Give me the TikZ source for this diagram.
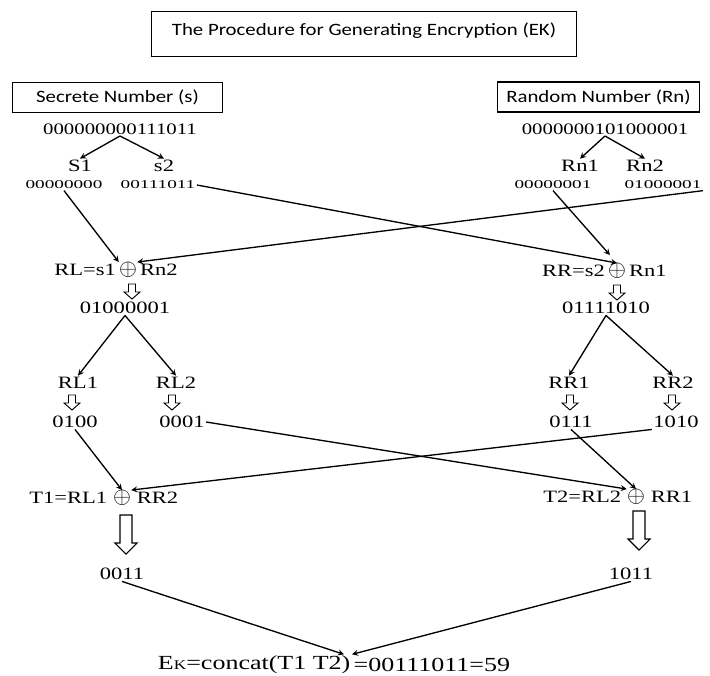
\documentclass[tikz,border=0pt]{standalone}
\usepackage{fontspec}
\setmainfont{Liberation Serif}
\newfontfamily\hdrfont[FakeStretch=1.2]{Carlito}
\newfontfamily\widefont[FakeStretch=1.3]{Liberation Serif}
\newfontfamily\bitsfont[FakeStretch=1.6]{Liberation Serif}
\usepackage{tikz}
\usetikzlibrary{positioning,arrows}
\tikzstyle{hdr} = [draw, line width=0.8pt, font=\hdrfont\fontsize{13}{15}\selectfont, inner sep=0pt]
\tikzstyle{lbl} = [font=\widefont\fontsize{13}{15}\selectfont, inner sep=1pt]
\tikzstyle{num} = [font=\widefont\fontsize{12}{14}\selectfont, inner sep=1pt]
\tikzstyle{bits} = [font=\bitsfont\fontsize{9}{10}\selectfont, inner sep=1pt]
\tikzstyle{xor} = [font=\fontsize{17}{19}\selectfont, inner sep=0pt]
\tikzstyle{arrow} = [line width=1pt,->,>=stealth]
\tikzset{
  smalldown/.pic={\draw[line width=0.7pt] (-3.5,-7) -- (3.5,-7) -- (3.5,1) -- (8,1) -- (0,8) -- (-8,1) -- (-3.5,1) -- cycle;},
  bigdown/.pic={\draw[line width=0.8pt] (-6,-19) -- (6,-19) -- (6,9) -- (11,9) -- (0,20) -- (-11,9) -- (-6,9) -- cycle;}
}
\begin{document}
\begin{tikzpicture}[x=0.75pt, y=-0.75pt]
    \useasboundingbox (0,0) rectangle (710,675);
    % headings
    \node[hdr, minimum width=319pt, minimum height=34pt, text depth=8pt] (title) at (364,34) {The Procedure for Generating Encryption (EK)};
    \node[hdr, minimum width=157pt, minimum height=22pt] (secbox) at (117.5,97.5) {Secrete Number (s)};
    \node[hdr, minimum width=152pt, minimum height=22.5pt] (rndbox) at (598.5,97) {Random Number (Rn)};
    % splitting s and Rn
    \node[num] (snum) at (120,129) {000000000111011};
    \node[num] (rnum) at (605,129) {0000000101000001};
    \node[lbl] (S1) at (80,166) {S1};
    \node[lbl] (s2) at (164,166) {s2};
    \node[lbl] (Rn1) at (580,166) {Rn1};
    \node[lbl] (Rn2) at (645,166) {Rn2};
    \node[bits] (bS1) at (64,185) {00000000};
    \node[bits] (bS2) at (158,185) {00111011};
    \node[bits] (bRn1) at (553,185) {00000001};
    \node[bits] (bRn2) at (663,185) {01000001};
    \draw[arrow] (snum.south) -- (S1.north);
    \draw[arrow] (snum.south) -- (s2.north);
    \draw[arrow] (rnum.south) -- (Rn1.north);
    \draw[arrow] (rnum.south) -- (Rn2.north);
    % RL and RR
    \node[xor] (xorL) at (128,270) {$\oplus$};
    \node[lbl, left=1pt of xorL] (RLl) {RL=s1};
    \node[lbl, right=1pt of xorL] (RLr) {Rn2};
    \node[xor] (xorR) at (617,271) {$\oplus$};
    \node[lbl, left=1pt of xorR] (RRl) {RR=s2};
    \node[lbl, right=1pt of xorR] (RRr) {Rn1};
    \draw[arrow] (bS1.south) -- (xorL.north west);
    \draw[arrow] (bRn2.south east) -- (xorL.north east);
    \draw[arrow] (bS2.east) -- (xorR.north);
    \draw[arrow, shorten >=8pt] (bRn1.south) -- (xorR.north);
    \pic at (132,291) {smalldown};
    \pic at (617,292) {smalldown};
    \node[lbl] (vL) at (125,308) {01000001};
    \node[lbl] (vR) at (606,308) {01111010};
    % halves
    \node[lbl] (RL1) at (78,383) {RL1};
    \node[lbl] (RL2) at (176,383) {RL2};
    \node[lbl] (RR1) at (569,383) {RR1};
    \node[lbl] (RR2) at (673,383) {RR2};
    \draw[arrow] (vL.south) -- (RL1.north);
    \draw[arrow] (vL.south) -- (RL2.north);
    \draw[arrow] (vR.south) -- (RR1.north);
    \draw[arrow] (vR.south) -- (RR2.north);
    \pic at (72,402) {smalldown};
    \pic at (172,402) {smalldown};
    \pic at (570,402) {smalldown};
    \pic at (672,402) {smalldown};
    \node[lbl] (h0100) at (75,422) {0100};
    \node[lbl] (h0001) at (182,422) {0001};
    \node[lbl] (h0111) at (571,422) {0111};
    \node[lbl] (h1010) at (676,422) {1010};
    % T1 and T2
    \node[xor] (xorT1) at (122,498) {$\oplus$};
    \node[lbl, left=3pt of xorT1] (T1l) {T1=RL1};
    \node[lbl, right=3pt of xorT1] (T1r) {RR2};
    \node[xor] (xorT2) at (636,497) {$\oplus$};
    \node[lbl, left=3pt of xorT2] (T2l) {T2=RL2};
    \node[lbl, right=3pt of xorT2] (T2r) {RR1};
    \draw[arrow] (h0100.south) -- (xorT1.north);
    \draw[arrow] (h1010.south west) -- (xorT1.north east);
    \draw[arrow] (h0001.east) -- (xorT2.north west);
    \draw[arrow] (h0111.south) -- (xorT2.north);
    \pic at (126,534) {bigdown};
    \pic at (639,530) {bigdown};
    \node[lbl] (t0011) at (122,574) {0011};
    \node[lbl] (t1011) at (631,574) {1011};
    % result
    \node[lbl, font=\widefont\fontsize{15}{17}\selectfont, anchor=east] (catL) at (352,665) {E{\fontsize{10}{11}\selectfont K}=concat(T1 T2)};
    \node[lbl, font=\widefont\fontsize{15}{17}\selectfont, right=0pt of catL] (catR) {=00111011=59};
    \draw[arrow] (t0011.south) -- ([xshift=-6pt]catL.north east);
    \draw[arrow] (t1011.south) -- (catL.north east);
\end{tikzpicture}
\end{document}
